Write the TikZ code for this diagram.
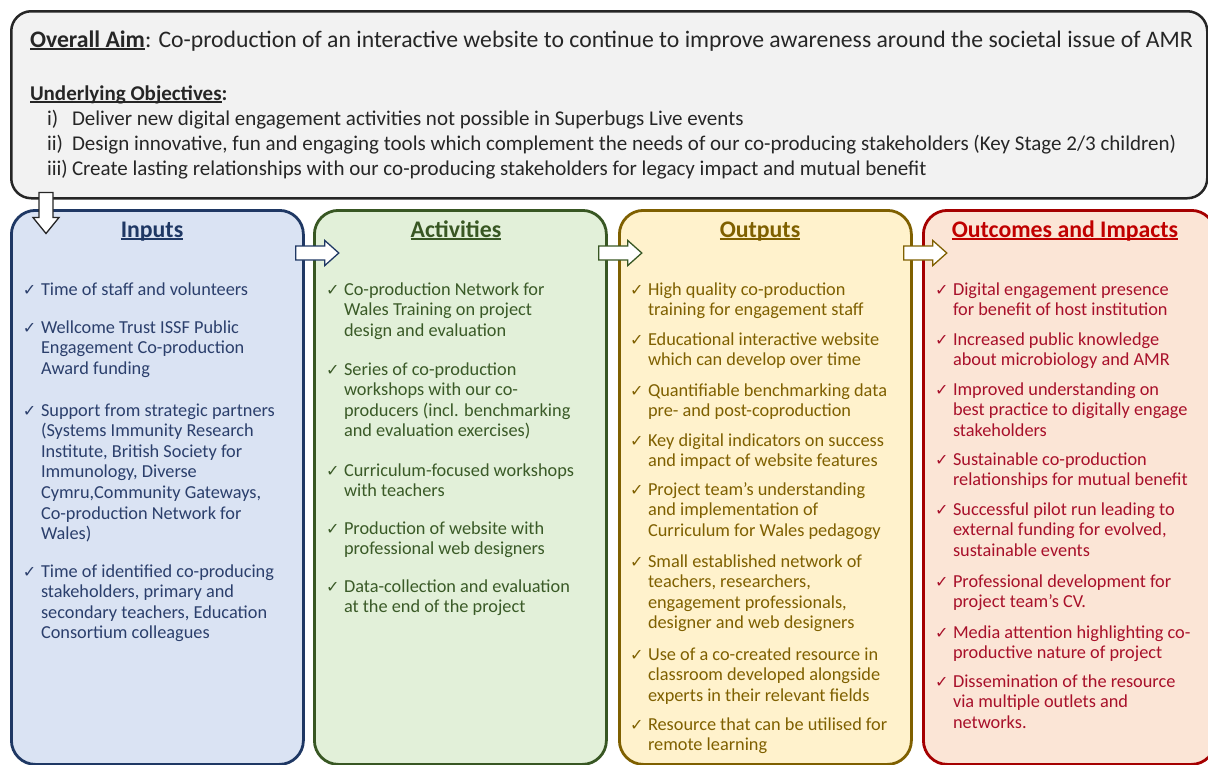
\documentclass[tikz,border=0pt]{standalone}
\usepackage{fontspec}
\setmainfont{Carlito}
\newfontfamily\chkfont{DejaVu Sans}
\usetikzlibrary{calc}
\definecolor{topfill}{HTML}{F2F2F2}
\definecolor{topline}{HTML}{262626}
\definecolor{inpfill}{HTML}{DAE3F3}
\definecolor{inpline}{HTML}{1F3864}
\definecolor{inptext}{HTML}{2B3F6C}
\definecolor{actfill}{HTML}{E2F0D9}
\definecolor{actline}{HTML}{385723}
\definecolor{acttext}{HTML}{3A5A27}
\definecolor{outfill}{HTML}{FFF2CC}
\definecolor{outpline}{HTML}{7F6000}
\definecolor{outtext}{HTML}{7F6000}
\definecolor{ocfill}{HTML}{FBE5D6}
\definecolor{ocline}{HTML}{A50000}
\definecolor{octext}{HTML}{A8102A}
\definecolor{ochead}{HTML}{C00000}
\newcommand{\ulx}[2][1.4pt]{\setbox0\hbox{#2}\rlap{\rule[-2.6pt]{\wd0}{#1}}\box0}
\newcommand{\itm}[1]{\makebox[16pt][l]{\hspace{-2pt}\chkfont\fontsize{16}{16}\selectfont ✓}\begin{tabular}[t]{@{}l@{}}#1\end{tabular}}
\tikzset{
  colbox/.style={draw, line width=2.8pt, rounded corners=24pt, minimum width=292pt, minimum height=554pt, anchor=north west, inner sep=0pt},
  txt/.style={anchor=base west, inner sep=0pt, outer sep=0pt},
  itemtxt/.style={txt, font=\fontsize{18.3}{20.6}\selectfont},
  headtxt/.style={anchor=base, inner sep=0pt, font=\fontsize{23.8}{26}\selectfont\bfseries},
  toptxt/.style={txt, font=\fontsize{21}{25}\selectfont, text=topline},
  barrow/.style={line width=1.3pt, fill=white, line join=miter},
}
\begin{document}
\begin{tikzpicture}[x=1pt,y=-1pt]
\useasboundingbox (0,0) rectangle (1208,764);
% boxes
\node[draw=topline, fill=topfill, line width=2.5pt, rounded corners=20pt, minimum width=1196pt, minimum height=187pt, anchor=north west, inner sep=0pt] (topbox) at (10,10) {};
\node[colbox, draw=inpline, fill=inpfill] (inputs) at (10,209) {};
\node[colbox, draw=actline, fill=actfill] (activities) at (313,209) {};
\node[colbox, draw=outpline, fill=outfill] (outputs) at (618,209) {};
\node[colbox, draw=ocline, fill=ocfill] (outcomes) at (922,209) {};
% arrows
\coordinate (d0) at ($(topbox.south west)+(36,-7)$);
\draw[barrow, draw=topline] (d0) -- ++(-7,0) -- ++(0,25) -- ++(-6,0) -- ++(13,16) -- ++(13,-16) -- ++(-6,0) -- ++(0,-25) -- cycle;
\coordinate (a1) at ($(inputs.north east)+(-9,44)$);
\coordinate (a2) at ($(activities.north east)+(-9,44)$);
\coordinate (a3) at ($(outputs.north east)+(-9,44)$);
\draw[barrow, draw=inpline] (a1) -- ++(0,-7) -- ++(29,0) -- ++(0,-5.5) -- ++(14,12.5) -- ++(-14,12.5) -- ++(0,-5.5) -- ++(-29,0) -- cycle;
\draw[barrow, draw=actline] (a2) -- ++(0,-7) -- ++(29,0) -- ++(0,-5.5) -- ++(14,12.5) -- ++(-14,12.5) -- ++(0,-5.5) -- ++(-29,0) -- cycle;
\draw[barrow, draw=outpline] (a3) -- ++(0,-7) -- ++(29,0) -- ++(0,-5.5) -- ++(14,12.5) -- ++(-14,12.5) -- ++(0,-5.5) -- ++(-29,0) -- cycle;
% top text
\node[toptxt, font=\fontsize{23.7}{27}\selectfont] (aim) at (30,47) {\ulx{\textbf{Overall Aim}}: Co-production of an interactive website to continue to improve awareness around the societal issue of AMR};
\node[toptxt] (objh) at (30,100) {\ulx{\textbf{Underlying Objectives}}\textbf{:}};
\node[toptxt] (o1l) at (47,125) {i)};
\node[toptxt] (o1) at (72,125) {Deliver new digital engagement activities not possible in Superbugs Live events};
\node[toptxt] (o2l) at (47,150) {ii)};
\node[toptxt] (o2) at (72,150) {Design innovative, fun and engaging tools which complement the needs of our co-producing stakeholders (Key Stage 2/3 children)};
\node[toptxt] (o3l) at (47,175) {iii)};
\node[toptxt] (o3) at (72,175) {Create lasting relationships with our co-producing stakeholders for legacy impact and mutual benefit};
% headings
\node[headtxt, text=inpline] (hin) at (152,237) {\ulx[1.8pt]{Inputs}};
\node[headtxt, text=actline] (hact) at (456,237) {\ulx[1.8pt]{Activities}};
\node[headtxt, text=outpline] (hout) at (760,237) {\ulx[1.8pt]{Outputs}};
\node[headtxt, text=ochead] (hoc) at (1065,237) {\ulx[1.8pt]{Outcomes and Impacts}};
% inputs items
\begin{scope}[every node/.style={itemtxt, text=inptext}]
\node (i1) at (25,295) {\itm{Time of staff and volunteers}};
\node (i2) at (25,333) {\itm{Wellcome Trust ISSF Public\\Engagement Co-production\\Award funding}};
\node (i3) at (25,416) {\itm{Support from strategic partners\\(Systems Immunity Research\\Institute, British Society for\\Immunology, Diverse\\Cymru,Community Gateways,\\Co-production Network for\\Wales)}};
\node (i4) at (25,577) {\itm{Time of identified co-producing\\stakeholders, primary and\\secondary teachers, Education\\Consortium colleagues}};
\end{scope}
% activities items
\begin{scope}[every node/.style={itemtxt, text=acttext}]
\node (ac1) at (328,295) {\itm{Co-production Network for\\Wales Training on project\\design and evaluation}};
\node (ac2) at (328,375) {\itm{Series of co-production\\workshops with our co-\\producers (incl. benchmarking\\and evaluation exercises)}};
\node (ac3) at (328,476) {\itm{Curriculum-focused workshops\\with teachers}};
\node (ac4) at (328,534) {\itm{Production of website with\\professional web designers}};
\node (ac5) at (328,592) {\itm{Data-collection and evaluation\\at the end of the project}};
\end{scope}
% outputs items
\begin{scope}[every node/.style={itemtxt, text=outtext}]
\node (ou1) at (632,295) {\itm{High quality co-production\\training for engagement staff}};
\node (ou2) at (632,345) {\itm{Educational interactive website\\which can develop over time}};
\node (ou3) at (632,396) {\itm{Quantifiable benchmarking data\\pre- and post-coproduction}};
\node (ou4) at (632,446) {\itm{Key digital indicators on success\\and impact of website features}};
\node (ou5) at (632,495) {\itm{Project team’s understanding\\and implementation of\\Curriculum for Wales pedagogy}};
\node (ou6) at (632,567) {\itm{Small established network of\\teachers, researchers,\\engagement professionals,\\designer and web designers}};
\node (ou7) at (632,660) {\itm{Use of a co-created resource in\\classroom developed alongside\\experts in their relevant fields}};
\node (ou8) at (632,730) {\itm{Resource that can be utilised for\\remote learning}};
\end{scope}
% outcomes items
\begin{scope}[every node/.style={itemtxt, text=octext}]
\node (oc1) at (937,295) {\itm{Digital engagement presence\\for benefit of host institution}};
\node (oc2) at (937,345) {\itm{Increased public knowledge\\about microbiology and AMR}};
\node (oc3) at (937,395) {\itm{Improved understanding on\\best practice to digitally engage\\stakeholders}};
\node (oc4) at (937,465) {\itm{Sustainable co-production\\relationships for mutual benefit}};
\node (oc5) at (937,515) {\itm{Successful pilot run leading to\\external funding for evolved,\\sustainable events}};
\node (oc6) at (937,587) {\itm{Professional development for\\project team’s CV.}};
\node (oc7) at (937,638) {\itm{Media attention highlighting co-\\productive nature of project}};
\node (oc8) at (937,687) {\itm{Dissemination of the resource\\via multiple outlets and\\networks.}};
\end{scope}
\end{tikzpicture}
\end{document}
